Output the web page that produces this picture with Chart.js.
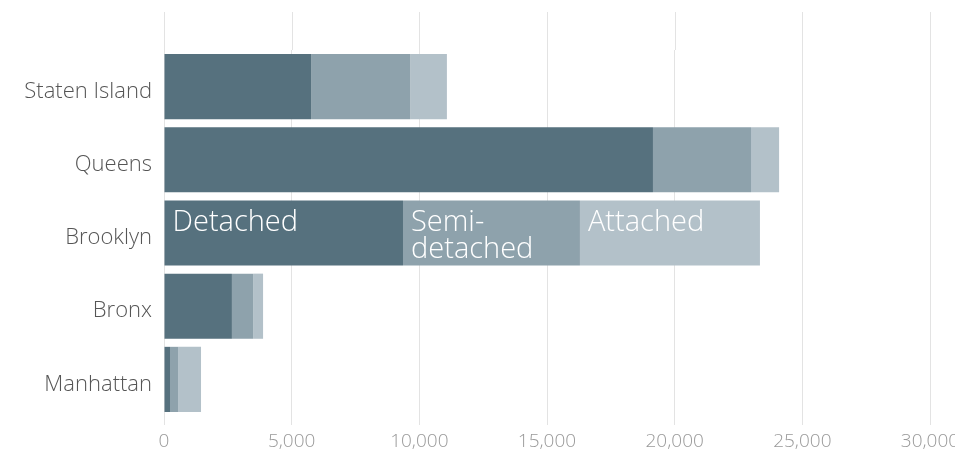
<!DOCTYPE html>
<html>
<head>
<meta charset="utf-8">
<script src="https://cdn.jsdelivr.net/npm/chart.js@4/dist/chart.umd.min.js"></script>
<style>
html,body{margin:0;padding:0;background:#fff;}
#wrap{width:955px;height:451px;position:relative;}
</style>
</head>
<body>
<div id="wrap"><canvas id="c" width="955" height="451"></canvas></div>
<script>
const categories = ["Staten Island", "Queens", "Brooklyn", "Bronx", "Manhattan"];
const detached = [5760, 19150, 9360, 2660, 235];
const semiDetached = [3880, 3840, 6930, 830, 315];
const attached = [1440, 1100, 7050, 390, 900];
const seriesNames = ["Detached", "Semi-detached", "Attached"];
const labelLines = [["Detached"], ["Semi-", "detached"], ["Attached"]];
const labelCategory = "Brooklyn";
const xTicks = { min: 0, max: 30000, step: 5000 };

const colors = ["#56717e", "#8ea2ac", "#b3c1c9"];
const fontFamily = "'Segoe UI', 'Open Sans', 'Noto Sans', sans-serif";

const extendGrid = {
  id: 'extendGrid',
  beforeDatasetsDraw(chart) {
    const ctx = chart.ctx, x = chart.scales.x, area = chart.chartArea;
    ctx.save();
    ctx.strokeStyle = '#e3e3e3';
    ctx.lineWidth = 1;
    x.ticks.forEach((t, i) => {
      const px = Math.round(x.getPixelForTick(i)) + 0.5;
      ctx.beginPath();
      ctx.moveTo(px, 12);
      ctx.lineTo(px, area.top);
      ctx.stroke();
    });
    ctx.restore();
  }
};

const segLabels = {
  id: 'segLabels',
  afterDatasetsDraw(chart) {
    const ctx = chart.ctx;
    const idx = categories.indexOf(labelCategory);
    ctx.save();
    ctx.fillStyle = '#ffffff';
    ctx.font = "300 29px " + fontFamily;
    ctx.textBaseline = 'alphabetic';
    ctx.textAlign = 'left';
    chart.data.datasets.forEach((ds, di) => {
      const el = chart.getDatasetMeta(di).data[idx];
      const left = Math.min(el.base, el.x);
      const top = el.y - el.height / 2;
      labelLines[di].forEach((line, li) => {
        ctx.fillText(line, left + 8, top + 31 + li * 27);
      });
    });
    ctx.restore();
  }
};

new Chart(document.getElementById('c'), {
  type: 'bar',
  data: {
    labels: categories,
    datasets: [
      { label: seriesNames[0], data: detached, backgroundColor: colors[0] },
      { label: seriesNames[1], data: semiDetached, backgroundColor: colors[1] },
      { label: seriesNames[2], data: attached, backgroundColor: colors[2] }
    ]
  },
  options: {
    indexAxis: 'y',
    responsive: false,
    animation: false,
    devicePixelRatio: 1,
    categoryPercentage: 1,
    barPercentage: 0.89,
    layout: { padding: { top: 50, right: 0, bottom: 0, left: 0 } },
    plugins: { legend: { display: false }, tooltip: { enabled: false } },
    scales: {
      x: {
        stacked: true,
        min: xTicks.min, max: xTicks.max,
        afterFit(scale) { scale.paddingRight = 25; scale.paddingLeft = 0; scale.height = 35; },
        ticks: {
          stepSize: xTicks.step,
          color: '#999999',
          font: { family: fontFamily, size: 19, weight: '300' },
          padding: 5,
          maxRotation: 0,
          callback: (v) => v.toLocaleString('en-US')
        },
        grid: { color: '#e3e3e3', lineWidth: 1, tickLength: 9, drawTicks: true, tickColor: '#e3e3e3' },
        border: { display: false }
      },
      y: {
        stacked: true,
        afterFit(scale) { scale.width = 164; },
        ticks: {
          color: '#555555',
          font: { family: fontFamily, size: 22, weight: '300' },
          padding: 12,
          labelOffset: 5
        },
        grid: { display: false, drawTicks: false },
        border: { display: false }
      }
    }
  },
  plugins: [extendGrid, segLabels]
});
</script>
</body>
</html>
